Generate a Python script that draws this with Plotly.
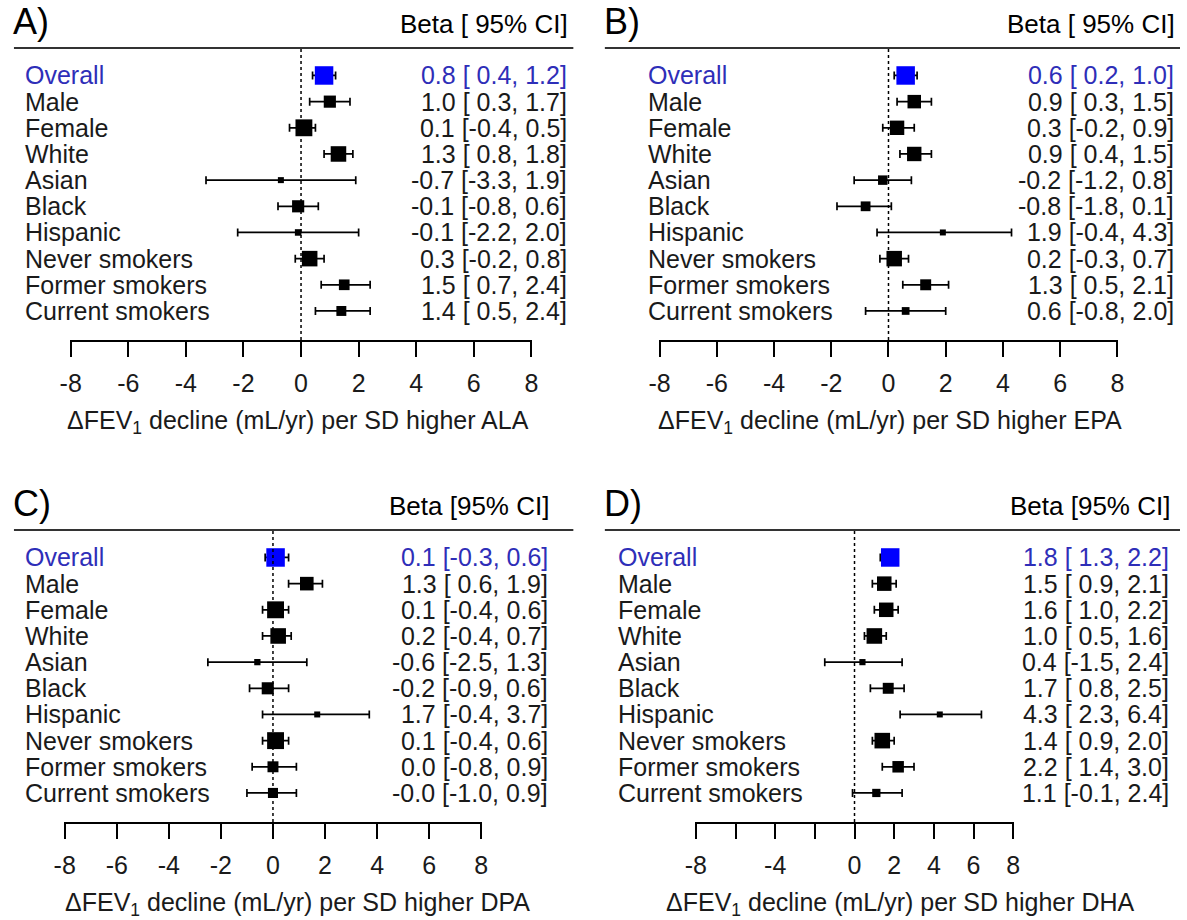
import plotly.graph_objects as go

groups = ["Overall", "Male", "Female", "White", "Asian", "Black", "Hispanic",
          "Never smokers", "Former smokers", "Current smokers"]

ala_est = [0.8, 1.0, 0.1, 1.3, -0.7, -0.1, -0.1, 0.3, 1.5, 1.4]
ala_lo = [0.4, 0.3, -0.4, 0.8, -3.3, -0.8, -2.2, -0.2, 0.7, 0.5]
ala_hi = [1.2, 1.7, 0.5, 1.8, 1.9, 0.6, 2.0, 0.8, 2.4, 2.4]

epa_est = [0.6, 0.9, 0.3, 0.9, -0.2, -0.8, 1.9, 0.2, 1.3, 0.6]
epa_lo = [0.2, 0.3, -0.2, 0.4, -1.2, -1.8, -0.4, -0.3, 0.5, -0.8]
epa_hi = [1.0, 1.5, 0.9, 1.5, 0.8, 0.1, 4.3, 0.7, 2.1, 2.0]

dpa_est = [0.1, 1.3, 0.1, 0.2, -0.6, -0.2, 1.7, 0.1, 0.0, -0.0]
dpa_lo = [-0.3, 0.6, -0.4, -0.4, -2.5, -0.9, -0.4, -0.4, -0.8, -1.0]
dpa_hi = [0.6, 1.9, 0.6, 0.7, 1.3, 0.6, 3.7, 0.6, 0.9, 0.9]

dha_est = [1.8, 1.5, 1.6, 1.0, 0.4, 1.7, 4.3, 1.4, 2.2, 1.1]
dha_lo = [1.3, 0.9, 1.0, 0.5, -1.5, 0.8, 2.3, 0.9, 1.4, -0.1]
dha_hi = [2.2, 2.1, 2.2, 1.6, 2.4, 2.5, 6.4, 2.0, 3.0, 2.4]

tick_vals = [-8, -6, -4, -2, 0, 2, 4, 6, 8]
tick_text = ["-8", "-6", "-4", "-2", "0", "2", "4", "6", "8"]
tick_vals_dha = [-8, -4, 0, 2, 4, 6, 8]
tick_text_dha = ["-8", "-4", "0", "2", "4", "6", "8"]

W, H = 1187, 920
FONT = "Liberation Sans, Arial, sans-serif"
BLUE_TXT = "#2e2eb8"
BLUE_SQ = "#0000ff"
TXT = "#1a1a1a"
FS = 25


def px(x):
    return x / W


def py(y):
    return 1 - y / H


panels = [
    dict(letter="A)", name="ALA", est=ala_est, lo=ala_lo, hi=ala_hi,
         header="Beta [ 95% CI]", xdom=(60, 529), ydom=(48, 340),
         lab_x=12, txt_r=567, hl=(3, 571), xlab_c=291, letter_x=0,
         tv=tick_vals, tt=tick_text),
    dict(letter="B)", name="EPA", est=epa_est, lo=epa_lo, hi=epa_hi,
         header="Beta [ 95% CI]", xdom=(658, 1124), ydom=(48, 340),
         lab_x=645, txt_r=1183, hl=(603, 1187), xlab_c=893, letter_x=600,
         tv=tick_vals, tt=tick_text),
    dict(letter="C)", name="DPA", est=dpa_est, lo=dpa_lo, hi=dpa_hi,
         header="Beta [95% CI]", xdom=(54, 478), ydom=(530, 822),
         lab_x=12, txt_r=547, hl=(3, 571), xlab_c=291, letter_x=0,
         tv=tick_vals, tt=tick_text),
    dict(letter="D)", name="DHA", est=dha_est, lo=dha_lo, hi=dha_hi,
         header="Beta [95% CI]", xdom=(695, 1018), ydom=(530, 822),
         lab_x=614, txt_r=1178, hl=(603, 1187), xlab_c=903, letter_x=600,
         tv=tick_vals_dha, tt=tick_text_dha),
]


def square_sizes(lo, hi, smin=6.0, smax=18.5):
    w = [1.0 / (h - l) for l, h in zip(lo, hi)]
    wmin, wmax = min(w), max(w)
    return [smin + (v - wmin) / (wmax - wmin) * (smax - smin) for v in w]


def fmt(v):
    s = f"{v:.1f}"
    return s if s.startswith("-") else "\u00a0" + s


fig = go.Figure()
annotations = []
shapes = []
layout_axes = {}
rows = list(range(len(groups)))

for k, p in enumerate(panels):
    n = "" if k == 0 else str(k + 1)
    xa, ya = "x" + n, "y" + n
    est, lo, hi = p["est"], p["lo"], p["hi"]
    colors = [BLUE_SQ] + ["black"] * (len(groups) - 1)
    fig.add_trace(go.Scatter(
        x=est, y=rows, xaxis=xa, yaxis=ya, mode="markers",
        marker=dict(symbol="square", size=square_sizes(lo, hi), color=colors,
                    opacity=1, line=dict(width=0)),
        error_x=dict(type="data", symmetric=False,
                     array=[h - e for e, h in zip(est, hi)],
                     arrayminus=[e - l for e, l in zip(est, lo)],
                     color="black", thickness=1.7, width=4),
        showlegend=False, hoverinfo="skip", cliponaxis=False,
    ))
    layout_axes["xaxis" + n] = dict(
        domain=[px(p["xdom"][0]), px(p["xdom"][1])], range=[-8.02, 8.02],
        anchor=ya, showline=True, linecolor="black", linewidth=1.5,
        ticks="outside", ticklen=15, tickwidth=1.5, tickcolor="black",
        tickvals=p["tv"], ticktext=p["tt"], ticklabelstandoff=5,
        tickfont=dict(size=FS, color=TXT, family=FONT),
        minor=dict(tick0=0, dtick=2, ticks="outside", ticklen=15,
                   tickwidth=1.5, tickcolor="black", showgrid=False),
        showgrid=False, zeroline=False, fixedrange=True,
    )
    layout_axes["yaxis" + n] = dict(
        domain=[py(p["ydom"][1]), py(p["ydom"][0])], range=[10.11, -1.05],
        anchor=xa, visible=False, fixedrange=True,
    )
    # reference line at 0
    shapes.append(dict(type="line", xref=xa, yref=ya + " domain", x0=0, x1=0,
                       y0=0, y1=1, line=dict(color="black", width=1.5, dash="dot")))
    # header rule
    shapes.append(dict(type="line", xref="paper", yref="paper",
                       x0=px(p["hl"][0]), x1=px(p["hl"][1]),
                       y0=py(p["ydom"][0]), y1=py(p["ydom"][0]),
                       line=dict(color="#333", width=2)))
    # panel letter and header
    annotations.append(dict(text=p["letter"], xref="paper", yref="paper",
                            x=px(p["letter_x"]), y=py(p["ydom"][0] - 26),
                            xanchor="left", yanchor="middle", showarrow=False,
                            font=dict(size=36, color="black", family=FONT)))
    annotations.append(dict(text=p["header"], xref="paper", yref="paper",
                            x=px(p["txt_r"] + 1), y=py(p["ydom"][0] - 24),
                            xanchor="right", yanchor="middle", showarrow=False,
                            font=dict(size=26, color="black", family=FONT)))
    # row labels and estimates
    for i, g in enumerate(groups):
        col = BLUE_TXT if i == 0 else TXT
        annotations.append(dict(text=g, xref="paper", yref=ya, x=px(p["lab_x"]),
                                y=i, xanchor="left", yanchor="middle",
                                showarrow=False,
                                font=dict(size=FS, color=col, family=FONT)))
        txt = f"{fmt(est[i])} [{lo[i]:4.1f},{hi[i]:4.1f}]"
        annotations.append(dict(text=txt, xref="paper", yref=ya, x=px(p["txt_r"]),
                                y=i, xanchor="right", yanchor="middle",
                                showarrow=False,
                                font=dict(size=FS, color=col, family=FONT)))
    # x-axis label
    annotations.append(dict(
        text=f"\u0394FEV<sub>1</sub> decline (mL/yr) per SD higher {p['name']}",
        xref="paper", yref="paper", x=px(p["xlab_c"]), y=py(p["ydom"][1] + 82),
        xanchor="center", yanchor="middle", showarrow=False,
        font=dict(size=25, color=TXT, family=FONT)))

fig.update_layout(
    width=W, height=H, margin=dict(l=0, r=0, t=0, b=0),
    paper_bgcolor="white", plot_bgcolor="white",
    annotations=annotations, shapes=shapes, **layout_axes,
)

fig.write_html("out.html")
